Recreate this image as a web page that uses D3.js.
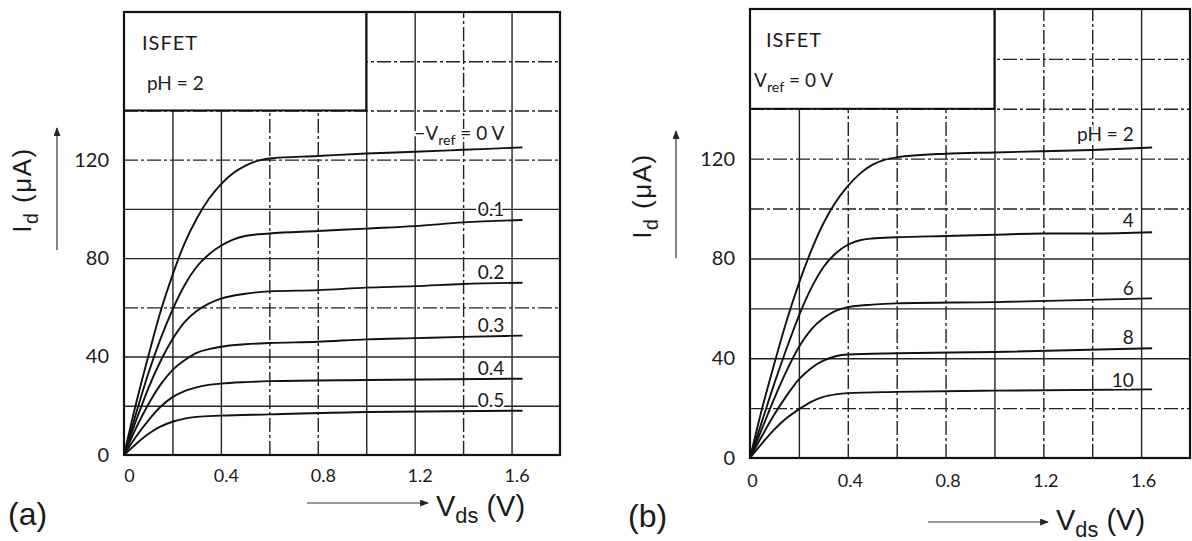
<!DOCTYPE html>
<html>
<head>
<meta charset="utf-8">
<script src="https://cdn.jsdelivr.net/npm/d3@7"></script>
<style>
  body { margin: 0; background: #fff; }
  svg text { fill: #1a1a1a; }
</style>
</head>
<body>
<div id="chart"></div>
<script>

const xTicks = [0, 0.4, 0.8, 1.2, 1.6];
const yTicks = [0, 40, 80, 120];
const gridX = [0.2, 0.4, 0.6, 0.8, 1.0, 1.2, 1.4, 1.6];
const gridY = [20, 40, 60, 80, 100, 120, 140, 160];

// (a) pH = 2, curves for -Vref
const vrefLabels = ["0 V", "0.1", "0.2", "0.3", "0.4", "0.5"];
const vrefCurves = [
	[[0,0],[0.05,21],[0.1,40],[0.15,58],[0.2,73],[0.25,86],[0.3,96],[0.35,104],[0.4,110],[0.45,114.5],[0.5,117.5],[0.55,119.5],[0.6,120.5],[0.8,121.5],[1.0,122.5],[1.2,123.2],[1.4,124],[1.645,125]],
	[[0,0],[0.05,17],[0.1,33],[0.15,47],[0.2,59],[0.25,69],[0.3,76.5],[0.35,81.5],[0.4,85],[0.45,87.5],[0.5,89],[0.6,90],[0.8,91],[1.0,92],[1.2,93],[1.4,94.5],[1.645,95.5]],
	[[0,0],[0.05,14],[0.1,27],[0.15,38],[0.2,47],[0.25,54],[0.3,58.5],[0.35,61.5],[0.4,63.5],[0.5,65.5],[0.6,66.5],[0.8,67],[1.0,68],[1.2,68.6],[1.4,69.5],[1.645,70]],
	[[0,0],[0.05,11],[0.1,20.5],[0.15,28.5],[0.2,34.5],[0.25,38.5],[0.3,41.5],[0.35,43],[0.4,44],[0.5,45],[0.6,45.5],[0.8,46],[1.0,47],[1.2,47.5],[1.4,48],[1.645,48.5]],
	[[0,0],[0.05,7.5],[0.1,14],[0.15,19.5],[0.2,23.5],[0.25,26],[0.3,27.5],[0.35,28.5],[0.4,29],[0.5,29.6],[0.6,30],[1.0,30.5],[1.645,31]],
	[[0,0],[0.05,4.5],[0.1,8.5],[0.15,11.5],[0.2,13.5],[0.25,14.8],[0.3,15.5],[0.4,16],[0.6,16.5],[1.0,17.5],[1.645,18]]
];

// (b) Vref = 0 V, curves for pH
const phLabels = ["pH = 2", "4", "6", "8", "10"];
const phCurves = [
	[[0,0],[0.05,20],[0.1,38],[0.15,55],[0.2,70],[0.25,83],[0.3,94],[0.35,102.5],[0.4,109],[0.45,114],[0.5,117.5],[0.55,119.5],[0.6,120.5],[0.8,122],[1.0,122.5],[1.2,123],[1.4,123.5],[1.645,124.5]],
	[[0,0],[0.05,15],[0.1,30],[0.15,44],[0.2,57],[0.25,68],[0.3,76.5],[0.35,82],[0.4,85.5],[0.45,87.3],[0.5,88],[0.6,88.5],[0.8,89],[1.0,89.5],[1.2,90],[1.4,90],[1.645,90.5]],
	[[0,0],[0.05,12],[0.1,24],[0.15,35],[0.2,44.5],[0.25,51.5],[0.3,56],[0.35,59],[0.4,60.5],[0.5,61.5],[0.6,62],[1.0,62.5],[1.645,64]],
	[[0,0],[0.05,9],[0.1,17.5],[0.15,25],[0.2,31.5],[0.25,36],[0.3,39],[0.35,40.8],[0.4,41.5],[0.6,42],[1.0,42.5],[1.645,44]],
	[[0,0],[0.05,6],[0.1,11.5],[0.15,16],[0.2,19.5],[0.25,22.5],[0.3,24.5],[0.35,25.5],[0.4,26],[0.6,26.5],[1.0,27],[1.645,27.5]]
];

const W = 1192, H = 541;

const svg = d3.select("#chart").append("svg")
	.attr("width", W)
	.attr("height", H)
	.style("font-family", "Lato, 'Liberation Sans', sans-serif");

svg.append("defs").append("marker")
	.attr("id", "arr")
	.attr("viewBox", "0 0 10 8")
	.attr("refX", 9).attr("refY", 4)
	.attr("markerWidth", 9).attr("markerHeight", 7)
	.attr("markerUnits", "userSpaceOnUse")
	.attr("orient", "auto")
	.append("path")
	.attr("d", "M0,0 L10,4 L0,8 z")
	.attr("fill", "#222");

const panels = [
	{
		left: 124, right: 560, top: 12, bottom: 455,
		curves: vrefCurves, labels: vrefLabels, labelShift: [-7, -4, -4, -4, -4, -4],
		dashX: [0.6, 0.8, 1.4], dashY: [60, 120, 140, 160],
		boxX: 142, boxIndent: [0, 5],
		tickDx: 5, tickPad: 14,
		yLabel: {x: 31, y: 190}, yArrow: {x: 57, y1: 250, y2: 128},
		tag: {text: "(a)", x: 8, y: 525},
		xArrow: {x1: 307, x2: 428, y: 503}, xTitle: {x: 436, y: 516}
	},
	{
		left: 750, right: 1190, top: 9, bottom: 458,
		curves: phCurves, labels: phLabels, labelShift: [-6, -5, -3, -4, -2],
		dashX: [0.4, 0.6, 0.8, 1.2, 1.4], dashY: [20, 100, 120, 140, 160],
		boxX: 766, boxIndent: [0, -12],
		tickDx: 2, tickPad: 16,
		yLabel: {x: 651, y: 196}, yArrow: {x: 676, y1: 258, y2: 131},
		tag: {text: "(b)", x: 628, y: 527},
		xArrow: {x1: 928, x2: 1048, y: 522}, xTitle: {x: 1056, y: 530}
	}
];

function subText(sel, base, sub, rest, size) {
	sel.append("tspan").text(base);
	sel.append("tspan").attr("dy", size * 0.25).attr("font-size", size * 0.75).text(sub);
	sel.append("tspan").attr("dy", -size * 0.25).text(rest);
}

function drawPanel(p, idx) {
	const x = d3.scaleLinear().domain([0, 1.8]).range([p.left, p.right]);
	const y = d3.scaleLinear().domain([0, 180]).range([p.bottom, p.top]);
	const g = svg.append("g");

	// grid lines
	g.append("g")
		.attr("transform", `translate(0,${p.bottom})`)
		.call(d3.axisBottom(x).tickValues(gridX).tickSize(-(p.bottom - p.top)).tickFormat(""))
		.call(a => a.select(".domain").remove())
		.selectAll("line")
		.attr("stroke", "#222")
		.attr("stroke-width", 1.4)
		.attr("stroke-dasharray", d => p.dashX.includes(d) ? "14,3,3,3" : null);

	g.append("g")
		.attr("transform", `translate(${p.left},0)`)
		.call(d3.axisLeft(y).tickValues(gridY).tickSize(-(p.right - p.left)).tickFormat(""))
		.call(a => a.select(".domain").remove())
		.selectAll("line")
		.attr("stroke", "#222")
		.attr("stroke-width", 1.4)
		.attr("stroke-dasharray", d => p.dashY.includes(d) ? "14,3,3,3" : null);

	// legend box, top left
	g.append("rect")
		.attr("x", x(0)).attr("y", y(180))
		.attr("width", x(1.0) - x(0)).attr("height", y(140) - y(180))
		.attr("fill", "#fff").attr("stroke", "#111").attr("stroke-width", 2);

	g.append("text")
		.attr("x", p.boxX + p.boxIndent[0]).attr("y", y(180) + 38)
		.attr("font-size", 20).attr("letter-spacing", 1)
		.text("ISFET");
	const t2 = g.append("text")
		.attr("x", p.boxX + p.boxIndent[1]).attr("y", y(180) + 78)
		.attr("font-size", 19);
	if (idx == 0) {
		t2.text("pH = 2");
	} else {
		subText(t2, "V", "ref", " = 0 V", 19);
	}

	// frame
	g.append("rect")
		.attr("x", x(0)).attr("y", y(180))
		.attr("width", x(1.8) - x(0)).attr("height", y(0) - y(180))
		.attr("fill", "none").attr("stroke", "#111").attr("stroke-width", 2.2);

	// curves
	const line = d3.line()
		.x(d => x(d[0]))
		.y(d => y(d[1]))
		.curve(d3.curveMonotoneX);

	g.selectAll("path.curve")
		.data(p.curves)
		.join("path")
		.attr("class", "curve")
		.attr("d", line)
		.attr("fill", "none")
		.attr("stroke", "#111")
		.attr("stroke-width", 1.9);

	// curve labels
	p.curves.forEach((c, i) => {
		const last = c[c.length - 1];
		const t = g.append("text")
			.attr("x", x(1.57))
			.attr("y", y(last[1]) + p.labelShift[i])
			.attr("text-anchor", "end")
			.attr("font-size", 19)
			.attr("stroke", "#fff").attr("stroke-width", 4).attr("paint-order", "stroke");
		if (idx == 0 && i == 0) {
			subText(t, "−V", "ref", " = 0 V", 19);
		} else {
			t.text(p.labels[i]);
		}
	});

	// tick labels
	g.append("g")
		.attr("transform", `translate(${p.tickDx},${p.bottom})`)
		.call(d3.axisBottom(x).tickValues(xTicks).tickSize(0).tickPadding(p.tickPad)
			.tickFormat(d => d == 0 ? "0" : d3.format(".1f")(d)))
		.call(a => a.select(".domain").remove())
		.selectAll("text")
		.attr("font-family", "Lato, 'Liberation Sans', sans-serif")
		.attr("font-size", 18)
		.attr("fill", "#1a1a1a");

	g.append("g")
		.attr("transform", `translate(${p.left},0)`)
		.call(d3.axisLeft(y).tickValues(yTicks).tickSize(0).tickPadding(15))
		.call(a => a.select(".domain").remove())
		.selectAll("text")
		.attr("font-family", "Lato, 'Liberation Sans', sans-serif")
		.attr("font-size", 20)
		.attr("fill", "#1a1a1a");

	// y title with arrow
	const yt = g.append("text")
		.attr("transform", `translate(${p.yLabel.x},${p.yLabel.y}) rotate(-90)`)
		.attr("text-anchor", "middle")
		.attr("font-family", "'Liberation Sans', Arial, sans-serif")
		.attr("font-size", 26)
		.attr("letter-spacing", 1.5);
	subText(yt, "I", "d", " (μA)", 26);

	g.append("line")
		.attr("x1", p.yArrow.x).attr("x2", p.yArrow.x)
		.attr("y1", p.yArrow.y1).attr("y2", p.yArrow.y2)
		.attr("stroke", "#333").attr("stroke-width", 1.2)
		.attr("marker-end", "url(#arr)");

	// x title with arrow
	g.append("line")
		.attr("x1", p.xArrow.x1).attr("x2", p.xArrow.x2)
		.attr("y1", p.xArrow.y).attr("y2", p.xArrow.y)
		.attr("stroke", "#333").attr("stroke-width", 1.2)
		.attr("marker-end", "url(#arr)");

	const xt = g.append("text")
		.attr("x", p.xTitle.x).attr("y", p.xTitle.y)
		.attr("font-family", "'Liberation Sans', Arial, sans-serif")
		.attr("font-size", 29);
	subText(xt, "V", "ds", " (V)", 29);

	g.append("text")
		.attr("x", p.tag.x).attr("y", p.tag.y)
		.attr("font-family", "'Liberation Sans', Arial, sans-serif")
		.attr("font-size", 32)
		.text(p.tag.text);
}

panels.forEach(drawPanel);
</script>
</body>
</html>
